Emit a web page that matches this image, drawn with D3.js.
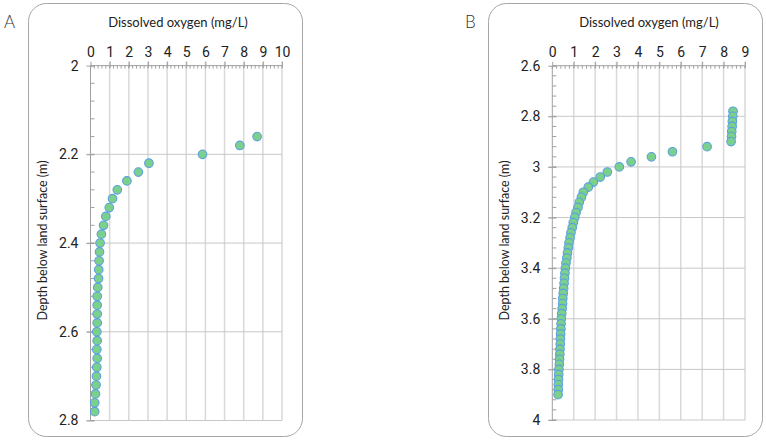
<!DOCTYPE html>
<html>
<head>
<meta charset="utf-8">
<script src="https://cdn.jsdelivr.net/npm/d3@7"></script>
<style>
  html, body { margin: 0; padding: 0; background: #fff; }
  svg { display: block; }
</style>
</head>
<body>
<svg id="chart" width="767" height="440"></svg>
<script>
// ---- Data ----
const depthA = [2.16, 2.18, 2.20, 2.22, 2.24, 2.26, 2.28, 2.30, 2.32, 2.34, 2.36, 2.38, 2.40, 2.42, 2.44, 2.46,
                2.48, 2.50, 2.52, 2.54, 2.56, 2.58, 2.60, 2.62, 2.64, 2.66, 2.68, 2.70, 2.72, 2.74, 2.76, 2.78];
const oxygenA = [8.7, 7.8, 5.85, 3.05, 2.5, 1.9, 1.4, 1.15, 0.98, 0.8, 0.68, 0.57, 0.5, 0.47, 0.45, 0.43,
                 0.42, 0.38, 0.35, 0.35, 0.35, 0.35, 0.33, 0.35, 0.33, 0.35, 0.33, 0.31, 0.29, 0.26, 0.22, 0.22];

const depthB = [2.78, 2.80, 2.82, 2.84, 2.86, 2.88, 2.90, 2.92, 2.94, 2.96, 2.98, 3.00, 3.02, 3.04, 3.06, 3.08,
                3.10, 3.12, 3.14, 3.16, 3.18, 3.20, 3.22, 3.24, 3.26, 3.28, 3.30, 3.32, 3.34, 3.36, 3.38, 3.40,
                3.42, 3.44, 3.46, 3.48, 3.50, 3.52, 3.54, 3.56, 3.58, 3.60, 3.62, 3.64, 3.66, 3.68, 3.70, 3.72,
                3.74, 3.76, 3.78, 3.80, 3.82, 3.84, 3.86, 3.88, 3.90];
const oxygenB = [8.44, 8.43, 8.41, 8.40, 8.38, 8.37, 8.35, 7.23, 5.61, 4.63, 3.68, 3.13, 2.57, 2.24, 1.92, 1.68,
                 1.45, 1.36, 1.26, 1.2, 1.11, 1.05, 0.98, 0.93, 0.87, 0.83, 0.78, 0.75, 0.71, 0.68, 0.64, 0.61,
                 0.59, 0.57, 0.55, 0.53, 0.51, 0.49, 0.48, 0.46, 0.44, 0.42, 0.41, 0.40, 0.39, 0.38, 0.37, 0.36,
                 0.35, 0.34, 0.33, 0.31, 0.30, 0.29, 0.28, 0.28, 0.27];

const xTicksA = [0, 1, 2, 3, 4, 5, 6, 7, 8, 9, 10];
const yTicksA = [2, 2.2, 2.4, 2.6, 2.8];
const xTicksB = [0, 1, 2, 3, 4, 5, 6, 7, 8, 9];
const yTicksB = [2.6, 2.8, 3, 3.2, 3.4, 3.6, 3.8, 4];

const xTitle = "Dissolved oxygen (mg/L)";
const yTitle = "Depth below land surface (m)";

// ---- Drawing ----
const svg = d3.select("#chart");
const numFont = "'Liberation Sans Narrow', 'Roboto', sans-serif";
const txtFont = "Lato, 'Open Sans', sans-serif";

function panel(cfg) {
  const g = svg.append("g");
  // frame
  g.append("rect")
    .attr("x", cfg.frame[0] + 0.5).attr("y", cfg.frame[1] + 0.5)
    .attr("width", cfg.frame[2] - cfg.frame[0]).attr("height", cfg.frame[3] - cfg.frame[1])
    .attr("rx", 18).attr("ry", 18)
    .attr("fill", "#fff").attr("stroke", "#a6a6a6").attr("stroke-width", 1);

  // panel letter
  g.append("text").attr("x", cfg.letterX).attr("y", 28)
    .attr("font-family", txtFont).attr("font-weight", 300).attr("font-size", 17)
    .attr("fill", "#333").text(cfg.letter);

  const x = d3.scaleLinear().domain(cfg.xDomain).range(cfg.xRange);
  const y = d3.scaleLinear().domain(cfg.yDomain).range(cfg.yRange);
  const x0 = x(cfg.xDomain[0]), x1 = x(cfg.xDomain[1]);
  const y0 = y(cfg.yDomain[0]), y1 = y(cfg.yDomain[1]);

  // vertical gridlines
  g.append("g").selectAll("line").data(cfg.xTicks.slice(1)).join("line")
    .attr("x1", d => x(d)).attr("x2", d => x(d))
    .attr("y1", y0 - 4).attr("y2", y1)
    .attr("stroke", "#d9d9d9").attr("stroke-width", 1.5);
  // horizontal gridlines
  g.append("g").selectAll("line").data(cfg.yTicks.slice(1)).join("line")
    .attr("x1", x0 - 4).attr("x2", x1)
    .attr("y1", d => y(d)).attr("y2", d => y(d))
    .attr("stroke", "#c8c8c8").attr("stroke-width", 1);

  // minor ticks on top axis (every 0.2)
  const xMinor = d3.range(cfg.xDomain[0], cfg.xDomain[1] + 1e-9, 0.2);
  g.append("g").selectAll("line").data(xMinor).join("line")
    .attr("x1", d => x(d)).attr("x2", d => x(d))
    .attr("y1", y0).attr("y2", y0 + 3)
    .attr("stroke", "#a0a0a0").attr("stroke-width", 1);
  // minor ticks on left axis (every 0.04)
  const yMinor = d3.range(cfg.yDomain[0], cfg.yDomain[1] + 1e-9, 0.04);
  g.append("g").selectAll("line").data(yMinor).join("line")
    .attr("x1", x0).attr("x2", x0 + 4)
    .attr("y1", d => y(d)).attr("y2", d => y(d))
    .attr("stroke", "#a0a0a0").attr("stroke-width", 1);

  // top axis (labels + major ticks)
  const xAxis = d3.axisTop(x).tickValues(cfg.xTicks).tickSize(4).tickPadding(5).tickFormat(d3.format("d"));
  const gx = g.append("g").attr("transform", `translate(0,${y0})`).call(xAxis);
  gx.select(".domain").attr("stroke", "#a0a0a0").attr("d", `M${x0},0H${x1}`);
  gx.selectAll(".tick line").attr("stroke", "#a0a0a0").attr("y2", -4).attr("y1", 2);
  gx.selectAll(".tick text").attr("font-family", numFont).attr("font-size", 14).attr("fill", "#222");

  // left axis
  const yAxis = d3.axisLeft(y).tickValues(cfg.yTicks).tickSize(4).tickPadding(8).tickFormat(d => d3.format("")(+d.toFixed(1)));
  const gy = g.append("g").attr("transform", `translate(${x0},0)`).call(yAxis);
  gy.select(".domain").attr("stroke", "#a0a0a0").attr("d", `M0,${y0}V${y1}`);
  gy.selectAll(".tick line").attr("stroke", "#a0a0a0").attr("x1", 4);
  gy.selectAll(".tick text").attr("font-family", numFont).attr("font-size", 14).attr("fill", "#222");

  // titles
  g.append("text").attr("x", cfg.titleX).attr("y", 27).attr("text-anchor", "middle")
    .attr("font-family", txtFont).attr("font-size", 13).attr("fill", "#222").text(xTitle);
  g.append("text").attr("transform", `translate(${cfg.yTitleX},240.5) rotate(-90)`)
    .attr("text-anchor", "middle")
    .attr("font-family", txtFont).attr("font-size", 12.5).attr("fill", "#222").text(yTitle);

  // points
  g.append("g").selectAll("circle").data(cfg.depth.map((d, i) => ({ d, o: cfg.oxygen[i] }))).join("circle")
    .attr("cx", p => x(p.o)).attr("cy", p => y(p.d)).attr("r", 4.3)
    .attr("fill", "#7bd08c").attr("stroke", "#5b9fe0").attr("stroke-width", 1.1);
}

panel({
  letter: "A", letterX: 4, frame: [28, 3, 302, 436],
  xDomain: [0, 10], xRange: [90.5, 282],
  yDomain: [2, 2.8], yRange: [65.6, 420.5],
  xTicks: xTicksA, yTicks: yTicksA,
  titleX: 178, yTitleX: 47,
  depth: depthA, oxygen: oxygenA
});

panel({
  letter: "B", letterX: 465, frame: [488, 3, 762, 436],
  xDomain: [0, 9], xRange: [552.3, 745],
  yDomain: [2.6, 4], yRange: [65.7, 420],
  xTicks: xTicksB, yTicks: yTicksB,
  titleX: 649, yTitleX: 509,
  depth: depthB, oxygen: oxygenB
});
</script>
</body>
</html>
